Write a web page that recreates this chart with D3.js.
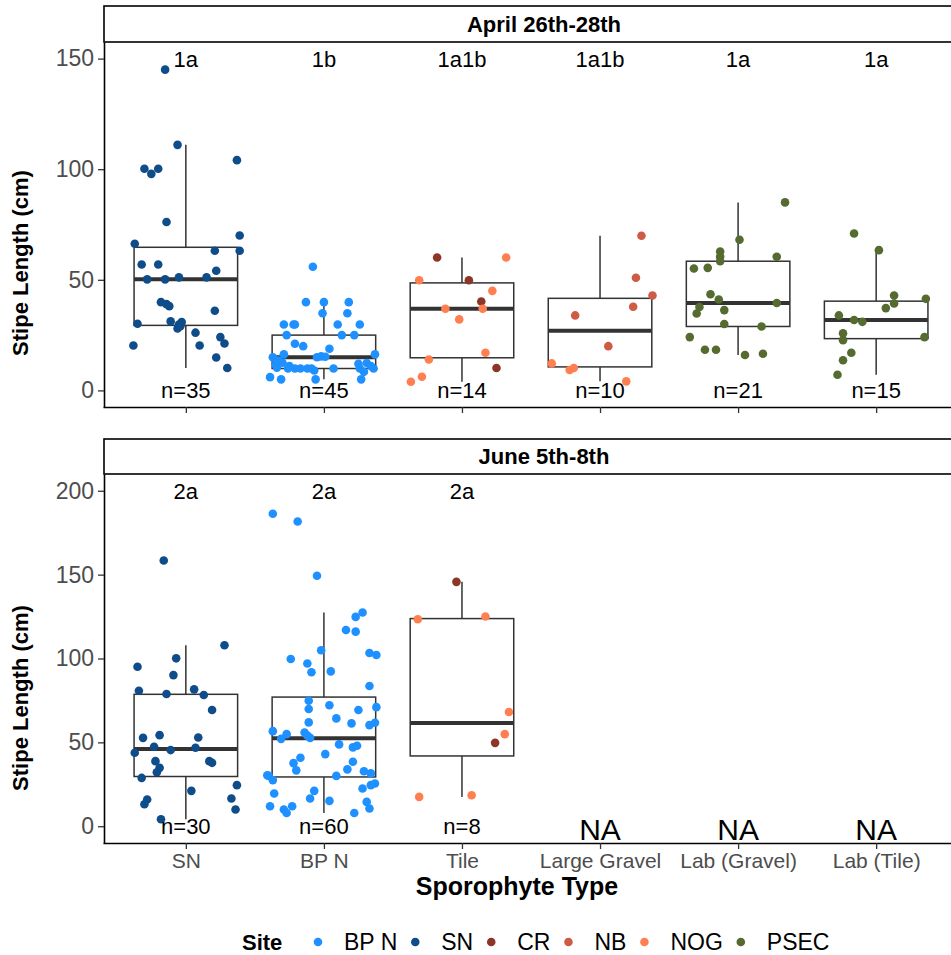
<!DOCTYPE html>
<html>
<head>
<meta charset="utf-8">
<script src="https://cdn.jsdelivr.net/npm/d3@7"></script>
<style>
  body { margin: 0; background: #fff; }
  svg text { font-family: "Liberation Sans", Arial, sans-serif; }
</style>
</head>
<body>
<svg id="chart" width="951" height="955"></svg>
<script>
// categories and sites
var categories = ["SN", "BP N", "Tile", "Large Gravel", "Lab (Gravel)", "Lab (Tile)"];
var sites = ["BP N", "SN", "CR", "NB", "NOG", "PSEC"];
var siteColors = ["#1E90FF", "#0F4C8A", "#8B3626", "#CD5B45", "#FF7F50", "#556B2F"];

var aprilLetters = ["1a", "1b", "1a1b", "1a1b", "1a", "1a"];
var juneLetters = ["2a", "2a", "2a"];
var yTicksApril = [0, 50, 100, 150];
var yTicksJune = [0, 50, 100, 150, 200];

// April 26th-28th: stipe lengths (cm) and jitter offsets (fraction of category step)
var aprilSN = [145, 111, 100.2, 97.9, 100.2, 104.1, 76.1, 66.3, 70, 63.1, 63.1, 56.9, 56.9, 54.1, 50.2, 50.2, 51.1, 51.1,
  39.9, 38.1, 39, 36, 30.1, 31.2, 29.8, 30.9, 28, 29, 26.1, 20.3, 20.3, 24.1, 21.2, 14.9, 10.1];
var aprilSNJitter = [-0.15, -0.06, -0.30, -0.25, -0.20, 0.37, -0.14, -0.37, 0.39, 0.39, 0.21, -0.32, -0.20, 0.22, -0.28, -0.15, -0.05, 0.15,
  -0.18, -0.12, -0.14, 0.21, -0.35, -0.11, -0.05, -0.03, -0.06, -0.04, 0.07, -0.38, 0.10, 0.25, 0.28, 0.22, 0.30];

var aprilBPN = [55.9, 39.9, 39.9, 39.9, 34.9, 34.9, 29.8, 29.8, 29.8, 29.8, 29.8, 25, 25, 25, 21.1, 20, 18.8, 15, 16.3, 15,
  15.4, 16.3, 11.7, 12.5, 9.9, 9.9, 9.9, 9.0, 9.9, 9.9, 12.4, 9.9, 8.4, 6.0, 5.0, 5.0, 5.0, 10.3, 13.5, 9.9,
  9.9, 11, 12, 11, 15.2];
var aprilBPNJitter = [-0.08, -0.13, 0.00, 0.18, -0.01, 0.17, -0.29, -0.22, -0.21, 0.10, 0.26, -0.27, 0.13, 0.22, -0.21, -0.15, 0.04, -0.37, -0.29, -0.05,
  -0.02, 0.37, -0.35, -0.30, -0.26, -0.17, -0.12, -0.07, 0.07, 0.26, 0.31, 0.36, 0.29, -0.39, -0.31, -0.06, 0.27, -0.34, -0.33, -0.21,
  -0.09, 0.34, 0.25, -0.25, 0.01];

var aprilTile = [60.1, 60.1, 49.8, 49.8, 45, 40.2, 36.9, 36.9, 32.1, 17, 14, 10.1, 6.2, 3.9];
var aprilTileJitter = [-0.18, 0.32, -0.31, 0.05, 0.22, 0.14, -0.12, 0.15, -0.02, 0.17, -0.24, 0.25, -0.29, -0.37];
var aprilTileSite = ["CR", "NOG", "NOG", "CR", "NOG", "CR", "NOG", "NOG", "NOG", "NOG", "NOG", "CR", "NOG", "NOG"];

var aprilGravel = [69.9, 50.9, 42.9, 37.8, 33.9, 20, 12.2, 9.2, 10.1, 4.1];
var aprilGravelJitter = [0.30, 0.26, 0.38, 0.24, -0.18, 0.06, -0.35, -0.22, -0.19, 0.19];
var aprilGravelSite = ["NB", "NB", "NB", "NB", "NB", "NB", "NOG", "NOG", "NOG", "NOG"];

var aprilLabGravel = [85, 68.1, 62.8, 60.4, 58.4, 60.4, 55.1, 55.4, 43.5, 41.1, 37.7, 34.8, 36.3, 39.5, 30, 28.9, 24.1,
  18.4, 18.4, 16, 16.6];
var aprilLabGravelJitter = [0.34, 0.01, -0.13, -0.13, -0.13, 0.28, -0.32, -0.22, -0.20, -0.14, -0.28, -0.30, -0.10, 0.28, -0.10, 0.17, -0.35,
  -0.24, -0.16, 0.05, 0.18];

var aprilLabTile = [70.9, 63.4, 42.9, 39.3, 37.2, 41.4, 33.9, 31.8, 31, 25.8, 22.7, 24.1, 17, 13.6, 7.1];
var aprilLabTileJitter = [-0.16, 0.02, 0.13, 0.13, 0.07, 0.36, -0.27, -0.16, -0.10, -0.24, -0.24, 0.35, -0.18, -0.24, -0.28];

// June 5th-8th
var juneSN = [158.4, 107.9, 100.1, 95.1, 90.1, 80.8, 78.8, 81.6, 78.2, 69.3, 52.7, 54.3, 52.9, 47.4, 43.8, 45.4, 46.8,
  38.8, 34.8, 32.2, 38.8, 37.8, 28.8, 24.5, 21.1, 16.5, 15.9, 13.1, 10, 4.2];
var juneSNJitter = [-0.16, 0.28, -0.07, -0.35, -0.09, -0.34, -0.14, 0.06, 0.13, 0.19, -0.31, -0.19, 0.09, -0.23, -0.37, -0.11, 0.07,
  -0.22, -0.19, -0.21, 0.17, 0.19, -0.32, 0.37, 0.04, 0.33, -0.28, -0.30, 0.36, -0.18];

var juneBPN = [186.3, 181.7, 149.3, 127.4, 124.8, 117, 116, 104.9, 103.3, 102.1, 99.7, 97, 91.8, 92.3, 83.6, 74.8, 69.9, 72.1,
  69.3, 71, 64.3, 61.9, 61.3, 60.3, 61.7, 56.7, 54.9, 52.1, 55.9, 52.7, 48.8, 47, 43, 40.8, 37.6, 33.3, 38.4, 33.9,
  30, 27.5, 19.5, 30, 32.8, 31.5, 24.5, 25.5, 22.5, 21.1, 16.5, 15.1, 14.5, 10.6, 11.9, 10, 11.9, 7.9, 7.9, 30.4, 54, 48];
var juneBPNJitter = [-0.37, -0.19, -0.05, 0.28, 0.23, 0.16, 0.23, -0.02, 0.33, 0.38, -0.24, -0.12, -0.09, 0.05, 0.33, -0.11, -0.11, 0.04,
  0.25, 0.38, 0.09, -0.11, 0.20, 0.33, 0.37, -0.37, -0.27, -0.31, -0.14, -0.10, 0.11, 0.21, 0.01, -0.17, -0.22, -0.20, 0.21, 0.17,
  -0.40, -0.37, -0.36, 0.09, 0.29, 0.34, 0.34, 0.37, 0.28, -0.07, -0.10, 0.04, 0.31, 0.33, -0.39, -0.29, -0.23, -0.27, 0.22, -0.41, -0.12, 0.24];

var juneTile = [145.7, 123.4, 125, 68.1, 54.9, 49.7, 17.5, 18.5];
var juneTileJitter = [-0.04, -0.32, 0.17, 0.34, 0.31, 0.24, -0.31, 0.07];
var juneTileSite = ["CR", "NOG", "NOG", "NOG", "NOG", "CR", "NOG", "NOG"];

function makeGroup(cat, values, jitter, site) {
  return {
    cat: cat,
    points: values.map(function (v, i) {
      return { v: v, j: jitter[i], site: Array.isArray(site) ? site[i] : site };
    })
  };
}

var panels = [
  {
    title: "April 26th-28th", stripTop: 6, top: 42, bottom: 407,
    yDomain: [-7.5, 157.5], yTicks: yTicksApril, letterValue: 150, letters: aprilLetters,
    showLabels: false, yTitleY: 263,
    groups: [
      makeGroup("SN", aprilSN, aprilSNJitter, "SN"),
      makeGroup("BP N", aprilBPN, aprilBPNJitter, "BP N"),
      makeGroup("Tile", aprilTile, aprilTileJitter, aprilTileSite),
      makeGroup("Large Gravel", aprilGravel, aprilGravelJitter, aprilGravelSite),
      makeGroup("Lab (Gravel)", aprilLabGravel, aprilLabGravelJitter, "PSEC"),
      makeGroup("Lab (Tile)", aprilLabTile, aprilLabTileJitter, "PSEC")
    ]
  },
  {
    title: "June 5th-8th", stripTop: 439, top: 474, bottom: 843,
    yDomain: [-10, 210], yTicks: yTicksJune, letterValue: 200, letters: juneLetters,
    showLabels: true, yTitleY: 698,
    groups: [
      makeGroup("SN", juneSN, juneSNJitter, "SN"),
      makeGroup("BP N", juneBPN, juneBPNJitter, "BP N"),
      makeGroup("Tile", juneTile, juneTileJitter, juneTileSite)
    ]
  }
];

var svg = d3.select("#chart");
var colorScale = d3.scaleOrdinal().domain(sites).range(siteColors);

var x = d3.scalePoint().domain(categories).range([103, 959]).padding(0.6);
var step = x.step();

function boxStats(vals) {
  var s = vals.slice().sort(d3.ascending);
  var q1 = d3.quantile(s, 0.25), med = d3.quantile(s, 0.5), q3 = d3.quantile(s, 0.75);
  var iqr = q3 - q1;
  var lo = d3.min(s.filter(function (v) { return v >= q1 - 1.5 * iqr; }));
  var hi = d3.max(s.filter(function (v) { return v <= q3 + 1.5 * iqr; }));
  return { q1: q1, med: med, q3: q3, lo: lo, hi: hi };
}

panels.forEach(function (p) {
  var y = d3.scaleLinear().domain(p.yDomain).range([p.bottom, p.top]);
  var g = svg.append("g");

  // strip
  g.append("rect")
    .attr("x", 104).attr("y", p.stripTop)
    .attr("width", 900).attr("height", p.top - p.stripTop)
    .attr("fill", "#fff").attr("stroke", "#000").attr("stroke-width", 1.6);
  g.append("text")
    .attr("x", 544).attr("y", (p.stripTop + p.top) / 2)
    .attr("dy", "0.36em")
    .attr("text-anchor", "middle")
    .style("font-weight", "bold").style("font-size", "22px")
    .text(p.title);

  // boxes
  p.groups.forEach(function (gr) {
    var st = boxStats(gr.points.map(function (d) { return d.v; }));
    var cx = x(gr.cat);
    var hw = step * 0.375;
    var bg = g.append("g").attr("stroke", "#333");
    bg.append("line").attr("x1", cx).attr("x2", cx).attr("y1", y(st.hi)).attr("y2", y(st.q3)).attr("stroke-width", 1.5);
    bg.append("line").attr("x1", cx).attr("x2", cx).attr("y1", y(st.q1)).attr("y2", y(st.lo)).attr("stroke-width", 1.5);
    bg.append("rect")
      .attr("x", cx - hw).attr("y", y(st.q3))
      .attr("width", hw * 2).attr("height", y(st.q1) - y(st.q3))
      .attr("fill", "#fff").attr("stroke-width", 1.5);
    bg.append("line").attr("x1", cx - hw).attr("x2", cx + hw)
      .attr("y1", y(st.med)).attr("y2", y(st.med)).attr("stroke-width", 4);
  });

  // jittered points
  p.groups.forEach(function (gr) {
    g.selectAll(null)
      .data(gr.points)
      .enter()
      .append("circle")
      .attr("cx", function (d) { return x(gr.cat) + d.j * step; })
      .attr("cy", function (d) { return y(d.v); })
      .attr("r", 4.3)
      .attr("fill", function (d) { return colorScale(d.site); });
  });

  // letters and n labels
  categories.forEach(function (c, i) {
    var gr = p.groups.find(function (d) { return d.cat == c; });
    if (gr) {
      g.append("text")
        .attr("x", x(c)).attr("y", y(p.letterValue)).attr("dy", "0.36em")
        .attr("text-anchor", "middle").style("font-size", "22px")
        .text(p.letters[i]);
      g.append("text")
        .attr("x", x(c)).attr("y", y(0)).attr("dy", "0.36em")
        .attr("text-anchor", "middle").style("font-size", "22px")
        .text("n=" + gr.points.length);
    } else {
      g.append("text")
        .attr("x", x(c)).attr("y", y(0) + 3).attr("dy", "0.36em")
        .attr("text-anchor", "middle").style("font-size", "30px")
        .text("NA");
    }
  });

  // axes
  var yAxis = g.append("g")
    .attr("transform", "translate(104,0)")
    .call(d3.axisLeft(y).tickValues(p.yTicks).tickSize(6).tickSizeOuter(0).tickPadding(4));
  yAxis.select(".domain").attr("stroke", "#000").attr("stroke-width", 1.6);
  yAxis.selectAll(".tick line").attr("stroke", "#333").attr("stroke-width", 1.3);
  yAxis.selectAll(".tick text").attr("fill", "#4D4D4D")
    .style("font-size", "23px").style("font-family", "Liberation Sans, Arial, sans-serif");

  var xAxis = g.append("g")
    .attr("transform", "translate(0," + p.bottom + ")")
    .call(d3.axisBottom(x).tickSize(6).tickSizeOuter(0).tickPadding(4));
  xAxis.select(".domain").attr("stroke", "#000").attr("stroke-width", 1.6);
  xAxis.selectAll(".tick line").attr("stroke", "#333").attr("stroke-width", 1.3);
  xAxis.selectAll(".tick text").attr("fill", "#4D4D4D")
    .style("font-size", "21px").style("font-family", "Liberation Sans, Arial, sans-serif");
  if (!p.showLabels) xAxis.selectAll(".tick text").remove();

  // y title
  g.append("text")
    .attr("transform", "translate(20," + p.yTitleY + ") rotate(-90)")
    .attr("dy", "0.36em")
    .attr("text-anchor", "middle")
    .style("font-weight", "bold").style("font-size", "22px")
    .text("Stipe Length (cm)");
});

// x title
svg.append("text")
  .attr("x", 517).attr("y", 886).attr("dy", "0.36em")
  .attr("text-anchor", "middle")
  .style("font-weight", "bold").style("font-size", "25px")
  .text("Sporophyte Type");

// legend
var legend = svg.append("g").attr("transform", "translate(0,942)");
legend.append("text")
  .attr("x", 242).attr("y", 0).attr("dy", "0.36em")
  .style("font-weight", "bold").style("font-size", "22px")
  .text("Site");
var cursor = 318;
sites.forEach(function (s) {
  legend.append("circle").attr("cx", cursor).attr("cy", 0).attr("r", 4.3).attr("fill", colorScale(s));
  var t = legend.append("text")
    .attr("x", cursor + 26).attr("y", 0).attr("dy", "0.36em")
    .style("font-size", "23px")
    .text(s);
  cursor += 26 + t.node().getComputedTextLength() + 18;
});
</script>
</body>
</html>
